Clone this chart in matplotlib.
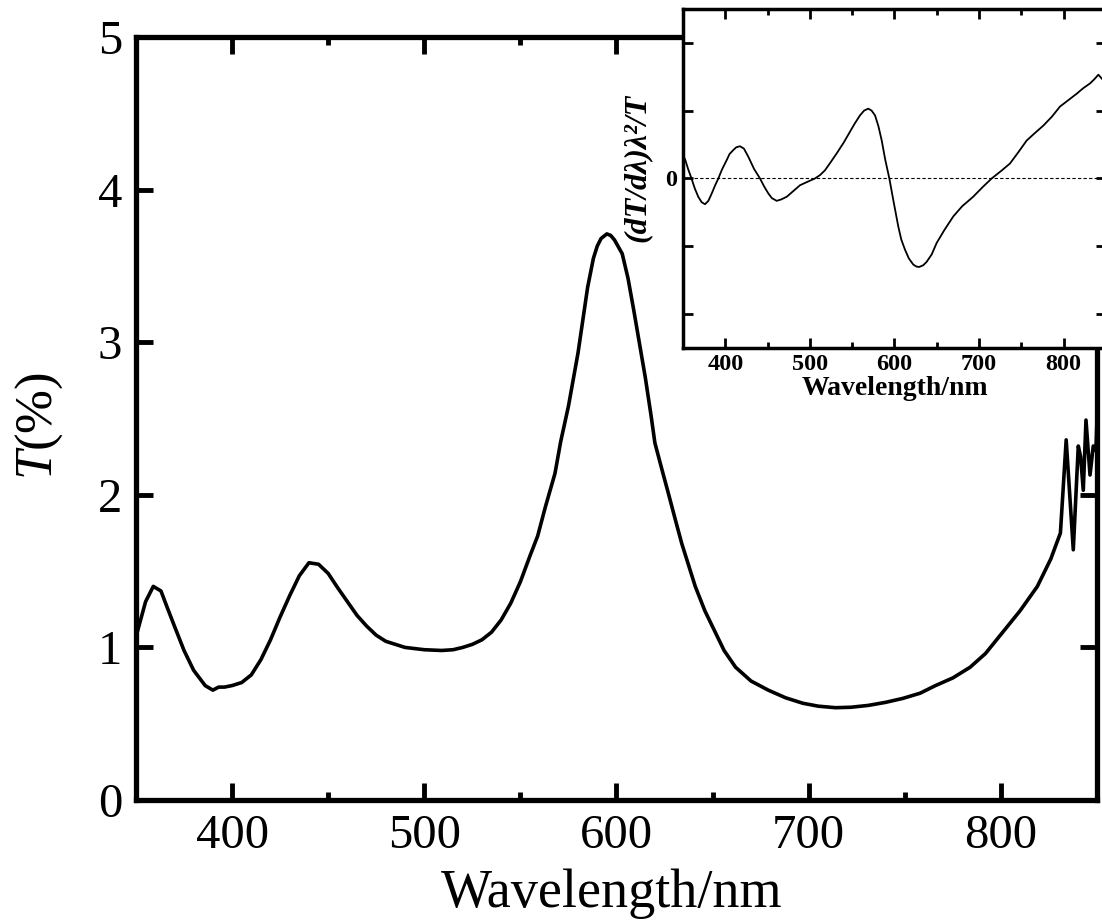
import matplotlib
matplotlib.use("Agg")
import matplotlib.pyplot as plt
from matplotlib.ticker import MultipleLocator, FixedLocator

plt.rcParams['font.family'] = ['Liberation Serif', 'DejaVu Serif']
plt.rcParams['mathtext.fontset'] = 'custom'
plt.rcParams['mathtext.rm'] = 'Liberation Serif'
plt.rcParams['mathtext.it'] = 'Liberation Serif:italic'

# main transmission spectrum
wl = [350, 355, 359, 363, 366, 370, 375, 380, 386, 390, 393, 396, 400, 405, 410,
      415, 420, 425, 430, 435, 440, 445, 450, 455, 460, 465, 470, 475, 480, 490,
      500, 509, 515, 520, 525, 530, 535, 540, 545, 550, 555, 559, 563, 568, 571,
      575, 580, 585, 588, 590, 592, 595, 597, 599, 603, 606, 609, 612, 615, 618,
      620, 624, 627, 631, 634, 638, 641, 646, 651, 656, 662, 670, 679, 688, 697,
      705, 714, 722, 731, 740, 749, 758, 766, 775, 784, 792, 801, 810, 819, 826,
      831, 834, 837.7, 840.3, 841.5, 842.9, 844.3, 846.4, 848.1, 849.5, 851]
T = [1.07, 1.30, 1.40, 1.37, 1.27, 1.14, 0.98, 0.85, 0.75, 0.72, 0.74, 0.74, 0.75, 0.77, 0.82,
     0.92, 1.05, 1.20, 1.34, 1.47, 1.555, 1.545, 1.485, 1.39, 1.30, 1.21, 1.14, 1.08, 1.04, 1.00,
     0.985, 0.98, 0.985, 1.00, 1.02, 1.05, 1.10, 1.18, 1.29, 1.43, 1.60, 1.73, 1.92, 2.14, 2.35,
     2.58, 2.93, 3.36, 3.55, 3.63, 3.68, 3.71, 3.70, 3.67, 3.58, 3.42, 3.21, 2.99, 2.77, 2.52,
     2.34, 2.15, 2.01, 1.82, 1.68, 1.52, 1.40, 1.24, 1.11, 0.98, 0.87, 0.78, 0.72, 0.67, 0.634,
     0.615, 0.605, 0.608, 0.62, 0.64, 0.666, 0.70, 0.75, 0.80, 0.87, 0.96, 1.10, 1.24, 1.40, 1.58,
     1.75, 2.36, 1.64, 2.32, 2.25, 2.03, 2.49, 2.13, 2.32, 2.29, 2.9]

# inset: (dT/dlambda) lambda^2 / T
wl_d = [350.4, 353, 356, 360, 364, 368, 372, 376, 380, 384, 388, 391.8, 396, 401.6,
        405, 409.5, 413, 417.4, 422, 427.2, 434, 441, 446, 450.8, 455, 460.7, 466,
        472.6, 480, 488.3, 497, 506, 512, 517.8, 524, 531.7, 540, 547.4, 553, 559.2,
        564, 569, 573, 577, 581, 584.9, 589, 593.9, 598.6, 604.5, 608, 612.4, 617,
        622.2, 626, 629.3, 634, 638, 644, 649.9, 659, 669.5, 680, 693, 704, 714.9,
        726, 736.5, 746, 756.3, 766, 776, 786, 795.6, 805, 815.4, 823, 831, 836,
        841, 845.3]
d = [0.34, 0.26, 0.14, 0.0, -0.15, -0.27, -0.35, -0.38, -0.33, -0.22, -0.10, 0.0, 0.13, 0.27,
     0.36, 0.42, 0.46, 0.475, 0.44, 0.32, 0.14, 0.0, -0.12, -0.22, -0.29, -0.33, -0.31,
     -0.27, -0.19, -0.10, -0.05, 0.0, 0.05, 0.12, 0.23, 0.37, 0.53, 0.69, 0.81, 0.93,
     1.0, 1.03, 1.0, 0.93, 0.77, 0.56, 0.28, 0.0, -0.32, -0.71, -0.90, -1.05, -1.18,
     -1.27, -1.30, -1.305, -1.28, -1.23, -1.12, -0.95, -0.76, -0.56, -0.41, -0.27, -0.13, 0.0,
     0.11, 0.22, 0.38, 0.56, 0.67, 0.78, 0.91, 1.06, 1.15, 1.25, 1.33, 1.40, 1.46,
     1.53, 1.47]

fig = plt.figure(figsize=(11.02, 9.22), dpi=100)
ax = fig.add_axes([0.1234, 0.1323, 0.872, 0.8275])
ax.plot(wl, T, '-k', lw=2.6)
ax.set_xlim(350, 850)
ax.set_ylim(0, 5)
ax.xaxis.set_major_locator(MultipleLocator(100))
ax.xaxis.set_minor_locator(MultipleLocator(50))
ax.yaxis.set_major_locator(MultipleLocator(1))
ax.tick_params(which='both', direction='in', top=True, right=True, width=3.5)
ax.tick_params(which='major', length=12, labelsize=35, pad=10)
ax.tick_params(which='minor', length=6)
for s in ax.spines.values():
    s.set_linewidth(3.8)
ax.set_xlabel('Wavelength/nm', fontsize=39)
ax.set_ylabel('$T$(%)', fontsize=38)
ax.xaxis.set_label_coords(0.495, -0.09)
ax.yaxis.set_label_coords(-0.074, 0.49)

ins = fig.add_axes([0.6198, 0.6226, 0.3838, 0.3677])
ins.plot(wl_d, d, '-k', lw=1.3)
ins.axhline(0, color='k', lw=0.8, ls=(0, (3, 2)))
ins.set_xlim(350, 850)
ins.set_ylim(-2.5, 2.5)
ins.xaxis.set_major_locator(MultipleLocator(100))
ins.xaxis.set_minor_locator(MultipleLocator(50))
ins.yaxis.set_major_locator(FixedLocator([-2, -1, 0, 1, 2]))
ins.set_yticklabels(['', '', '0', '', ''])
ins.tick_params(which='both', direction='in', top=True, right=True, width=2)
ins.tick_params(which='major', length=7, labelsize=17.5, pad=4)
ins.tick_params(which='minor', length=4)
for lab in ins.get_xticklabels() + ins.get_yticklabels():
    lab.set_fontweight('bold')
for s in ins.spines.values():
    s.set_linewidth(2.5)
ins.set_xlabel('Wavelength/nm', fontsize=20, fontweight='bold', labelpad=1)
ins.set_ylabel('(dT/dλ)λ²/T', fontsize=23, fontweight='bold', style='italic')
ins.yaxis.set_label_coords(-0.075, 0.53)

fig.savefig('out.png', dpi=100)
